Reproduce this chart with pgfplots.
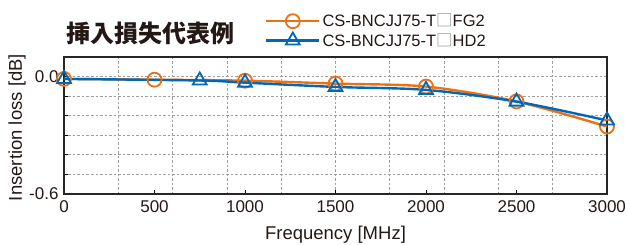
\documentclass[border=0pt]{standalone}
\usepackage{fontspec}
\setmainfont{Liberation Sans}
\newfontfamily\cjk{Noto Sans CJK JP}
\usepackage{pgfplots}
\pgfplotsset{compat=1.18}
\definecolor{myorange}{RGB}{237,112,18}
\definecolor{myblue}{RGB}{0,104,183}
\definecolor{txt}{RGB}{35,24,21}
\begin{document}
\begin{tikzpicture}
\path[use as bounding box] (-64pt,-50pt) rectangle (564pt,194pt);
\begin{axis}[
  at={(0pt,0pt)}, anchor=south west,
  scale only axis, width=543pt, height=137pt,
  xmin=0, xmax=3000, ymin=-0.6, ymax=0.1,
  xtick={0,500,1000,1500,2000,2500,3000},
  xticklabels={0,500,1000,1500,2000,2500,3000},
  minor xtick={300,600,900,1200,1500,1800,2100,2400,2700},
  ytick={-0.6,-0.5,-0.4,-0.3,-0.2,-0.1,0},
  yticklabels={-0.6,{},{},{},{},{},0.0},
  tick align=inside, xtick pos=bottom, ytick pos=left,
  major tick length=4pt, minor tick length=0pt,
  tick style={black, line width=0.8pt},
  ymajorgrids=true, xminorgrids=true, xmajorgrids=false,
  grid style={gray!75, line width=0.8pt, dash pattern=on 2.5pt off 2pt},
  axis line style={black!85, line width=1.2pt},
  ticklabel style={font=\fontsize{17}{19}\selectfont, text=txt},
  xticklabel style={yshift=-3pt},
  yticklabel style={xshift=-2pt},
  xlabel={Frequency [MHz]},
  ylabel={Insertion loss [dB]},
  label style={font=\fontsize{18.5}{21}\selectfont, text=txt},
  xlabel style={at={(axis description cs:0.5,-0.30)}, anchor=center},
  ylabel style={at={(axis description cs:-0.0866,0.485)}, anchor=center},
  legend style={at={(axis description cs:0.370,1.33)}, anchor=north west, draw=none, fill=none,
    font=\fontsize{16.5}{18}\selectfont, text=txt, row sep=1pt, inner sep=0pt},
  legend cell align=left,
  legend image code/.code={
    \draw[mark repeat=2, mark phase=2, #1] plot coordinates {(0pt,0pt) (26.5pt,0pt) (53pt,0pt)};
  },
]
\addplot[myorange, line width=2.4pt, smooth, tension=0.5, mark=o, mark size=7pt,
  mark options={line width=1.8pt, solid}]
  coordinates {(0,-0.012) (500,-0.016) (1000,-0.021) (1500,-0.036) (2000,-0.051) (2500,-0.127) (3000,-0.255)};
\addlegendentry{CS-BNCJJ75-T{\cjk\color{black!45}□}FG2}
\addplot[myblue, line width=2.4pt, smooth, tension=0.5, mark=triangle, mark size=8pt,
  mark options={line width=1.8pt, solid}]
  coordinates {(0,-0.012) (750,-0.020) (1000,-0.031) (1500,-0.053) (2000,-0.068) (2500,-0.128) (3000,-0.224)};
\addlegendentry{CS-BNCJJ75-T{\cjk\color{black!45}□}HD2}
\end{axis}
\node[font=\cjk\bfseries\fontsize{24}{26}\selectfont, text=txt] at (86pt,161pt) {挿入損失代表例};
\end{tikzpicture}
\end{document}
